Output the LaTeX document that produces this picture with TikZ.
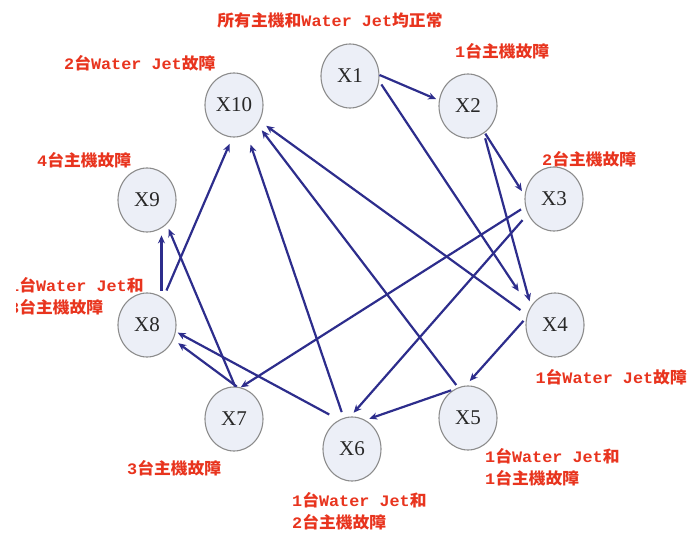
\documentclass[tikz,border=0pt]{standalone}
\usepackage{fontspec}
\usetikzlibrary{shapes.geometric,arrows.meta}
\newfontfamily\cjkf[FakeStretch=1.05]{Noto Sans CJK TC}
\newfontfamily\monof[FakeStretch=1.05]{Liberation Mono}
\newfontfamily\serf{Liberation Serif}
\newcommand\mylat[1]{{\monof\bfseries #1}}
\definecolor{lblred}{RGB}{232,52,30}
\definecolor{edgeblue}{RGB}{45,45,140}
\definecolor{nodefill}{RGB}{236,239,247}
\definecolor{nodeline}{RGB}{140,140,140}
\definecolor{nodetext}{RGB}{40,40,40}
\begin{document}
\begin{tikzpicture}[x=1pt,y=-1pt,
  state/.style={ellipse, draw=nodeline, line width=1.1pt, fill=nodefill,
    minimum width=58pt, minimum height=64pt, inner sep=0pt,
    font=\serf\fontsize{21}{21}\selectfont, text=nodetext},
  lbl/.style={text=lblred, font=\cjkf\bfseries\fontsize{16}{22}\selectfont,
    inner sep=0pt, align=left},
  edge/.style={draw=edgeblue, line width=2.2pt,
    -{Stealth[length=8pt,width=7pt]}}]
\useasboundingbox (0,0) rectangle (688,534);

% states
\node[state] (X1)  at (350,76)  {X1};
\node[state] (X2)  at (468,106) {X2};
\node[state] (X3)  at (554,199) {X3};
\node[state] (X4)  at (555,325) {X4};
\node[state] (X5)  at (468,418) {X5};
\node[state] (X6)  at (352,449) {X6};
\node[state] (X7)  at (234,419) {X7};
\node[state] (X8)  at (147,325) {X8};
\node[state] (X9)  at (147,200) {X9};
\node[state] (X10) at (234,105) {X10};

% labels
\node[lbl] (L1) at (330,20) {所有主機和\mylat{Water Jet}均正常};
\node[lbl, anchor=west] (L2) at (455,51) {\mylat{1}台主機故障};
\node[lbl, anchor=west] (L10) at (64,63) {\mylat{2}台\mylat{Water Jet}故障};
\node[lbl, anchor=west] (L9) at (37,160) {\mylat{4}台主機故障};
\node[lbl, anchor=west] (L3) at (542,159) {\mylat{2}台主機故障};
\begin{scope}
  \clip (16,260) rectangle (170,320);
  \node[lbl, anchor=west] (L8) at (9,296.5) {\mylat{1}台\mylat{Water Jet}和\\\mylat{3}台主機故障};
\end{scope}
\node[lbl, anchor=east] (L4) at (687,377) {\mylat{1}台\mylat{Water Jet}故障};
\node[lbl, anchor=west] (L5) at (485,467.5) {\mylat{1}台\mylat{Water Jet}和\\\mylat{1}台主機故障};
\node[lbl, anchor=west] (L7) at (127,468) {\mylat{3}台主機故障};
\node[lbl, anchor=west] (L6) at (292,511.5) {\mylat{1}台\mylat{Water Jet}和\\\mylat{2}台主機故障};

% transitions
\draw[edge, shorten >=3pt] (X1.2) -- (X2.169);
\draw[edge, shorten <=4pt, shorten >=20pt] (X1.-10) -- (X4.146);
\draw[edge, shorten <=1pt, shorten >=5pt] (X2.-58) -- (X3.173);
\draw[edge, shorten <=5pt, shorten >=5pt] (X2.-60) -- (X4.142);
\draw[edge, shorten <=5pt] (X3.195) -- (X7.78);
\draw[edge, shorten <=8pt, shorten >=5pt] (X3.210) -- (X6.93);
\draw[edge, shorten <=8pt, shorten >=8pt] (X4.160) -- (X10.-32);
\draw[edge, shorten <=4pt, shorten >=6pt] (X4.166) -- (X5.94);
\draw[edge, shorten <=3pt, shorten >=4pt] (X5.116) -- (X6.65);
\draw[edge, shorten <=3pt, shorten >=7pt] (X5.108) -- (X10.-40);
\draw[edge, shorten <=6pt, shorten >=11pt] (X6.105) -- (X10.-66);
\draw[edge, shorten <=11pt, shorten >=2pt] (X6.114) -- (X8.-13);
\draw[edge, shorten >=6pt] (X7.85) -- (X8.-29);
\draw[edge, shorten >=5pt] (X7.88) -- (X9.-51);
\draw[edge, shorten <=6pt, shorten >=7pt] (X8.63) -- (X9.-63);
\draw[edge, shorten <=8pt, shorten >=7pt] (X8.59) -- (X10.-93);
\end{tikzpicture}
\end{document}
